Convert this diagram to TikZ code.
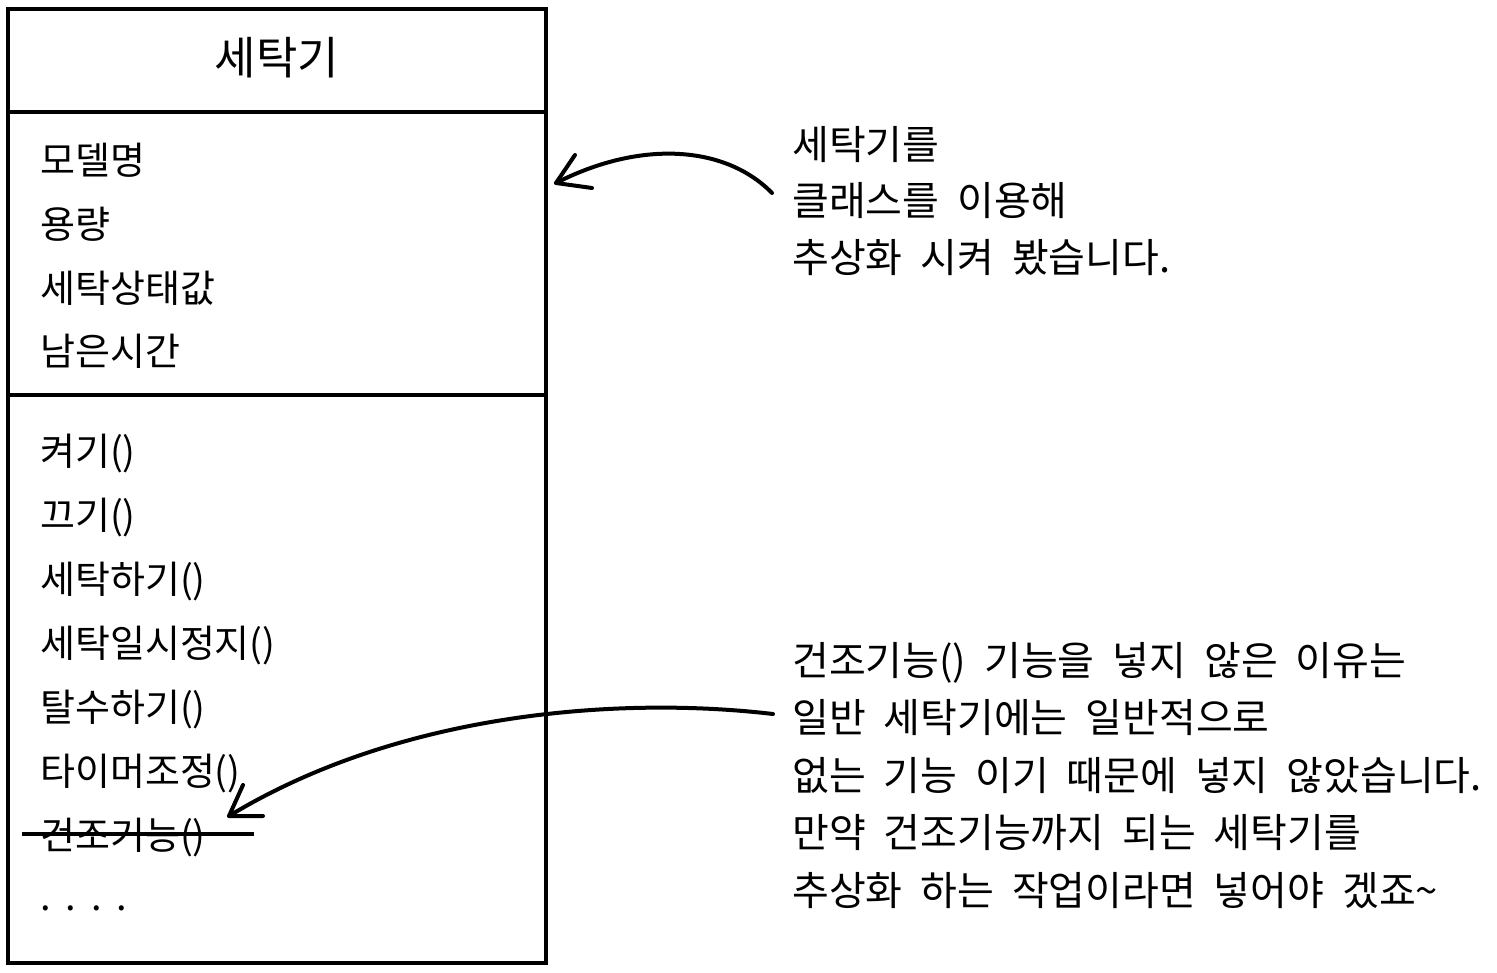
\documentclass[tikz,border=0pt]{standalone}
\usepackage{fontspec}
\setmainfont{Noto Sans CJK KR}[WordSpace=2.0]
\begin{document}
\begin{tikzpicture}[x=1pt,y=-1pt,
  boxline/.style={line width=3.2pt, draw=black},
  arr/.style={line width=4pt, line cap=round, line join=round},
  strike/.style={line width=3.5pt},
  titletext/.style={anchor=base, inner sep=0pt, font=\fontsize{45}{50}\selectfont},
  lbl/.style={anchor=base west, inner sep=0pt, font=\fontsize{38}{44}\selectfont},
  note/.style={anchor=base west, inner sep=0pt, font=\fontsize{40}{46}\selectfont}]
\fill[white] (0,0) rectangle (1497,973);
\useasboundingbox (0,0) rectangle (1497,973);

% class box
\node[boxline, rectangle, anchor=north west, inner sep=0pt, outer sep=0pt,
      minimum width=538pt, minimum height=954pt] (cls) at (8,9) {};
\draw[boxline] (cls.west |- 0,112) -- (cls.east |- 0,112);
\draw[boxline] (cls.west |- 0,395) -- (cls.east |- 0,395);

\node[titletext] (title) at (277,75) {세탁기};

% attributes
\node[lbl] (at1) at (40,174.3) {모델명};
\node[lbl] (at2) at (40,238.3) {용량};
\node[lbl] (at3) at (40,302.3) {세탁상태값};
\node[lbl] (at4) at (40,365.3) {남은시간};

% methods
\node[lbl] (m1) at (40,465.3) {켜기()};
\node[lbl] (m2) at (40,529.3) {끄기()};
\node[lbl] (m3) at (40,593.3) {세탁하기()};
\node[lbl] (m4) at (40,657.3) {세탁일시정지()};
\node[lbl] (m5) at (40,721.3) {탈수하기()};
\node[lbl] (m6) at (40,785.3) {타이머조정()};
\node[lbl] (m7) at (40,849.3) {건조기능()};
\node[lbl] (m8) at (40,910) {.\hspace{15pt}.\hspace{15pt}.\hspace{15pt}.};
\draw[strike] (22,834) -- (254,834);

% notes
\node[note] (n1a) at (792,160) {세탁기를};
\node[note] (n1b) at (792,216) {클래스를 이용해};
\node[note] (n1c) at (792,273) {추상화 시켜 봤습니다.};

\node[note] (n2a) at (792,675) {건조기능() 기능을 넣지 않은 이유는};
\node[note] (n2b) at (792,732) {일반 세탁기에는 일반적으로};
\node[note] (n2c) at (792,790) {없는 기능 이기 때문에 넣지 않았습니다.};
\node[note] (n2d) at (792,847) {만약 건조기능까지 되는 세탁기를};
\node[note] (n2e) at (792,905) {추상화 하는 작업이라면 넣어야 겠죠\textasciitilde};

% arrows
\coordinate (a1s) at (772,193);
\coordinate (a1t) at (556,183);
\draw[arr] (a1s) .. controls (725,145) and (640,140) .. (a1t);
\draw[arr] ([shift={(19,-28)}]a1t) -- (a1t) -- ([shift={(36,5)}]a1t);

\coordinate (a2s) at (773,714);
\coordinate (a2t) at (229,816);
\draw[arr] (a2s) .. controls (620,696) and (400,712) .. (a2t);
\draw[arr] ([shift={(14,-31)}]a2t) -- (a2t) -- ([shift={(34,0)}]a2t);
\end{tikzpicture}
\end{document}
